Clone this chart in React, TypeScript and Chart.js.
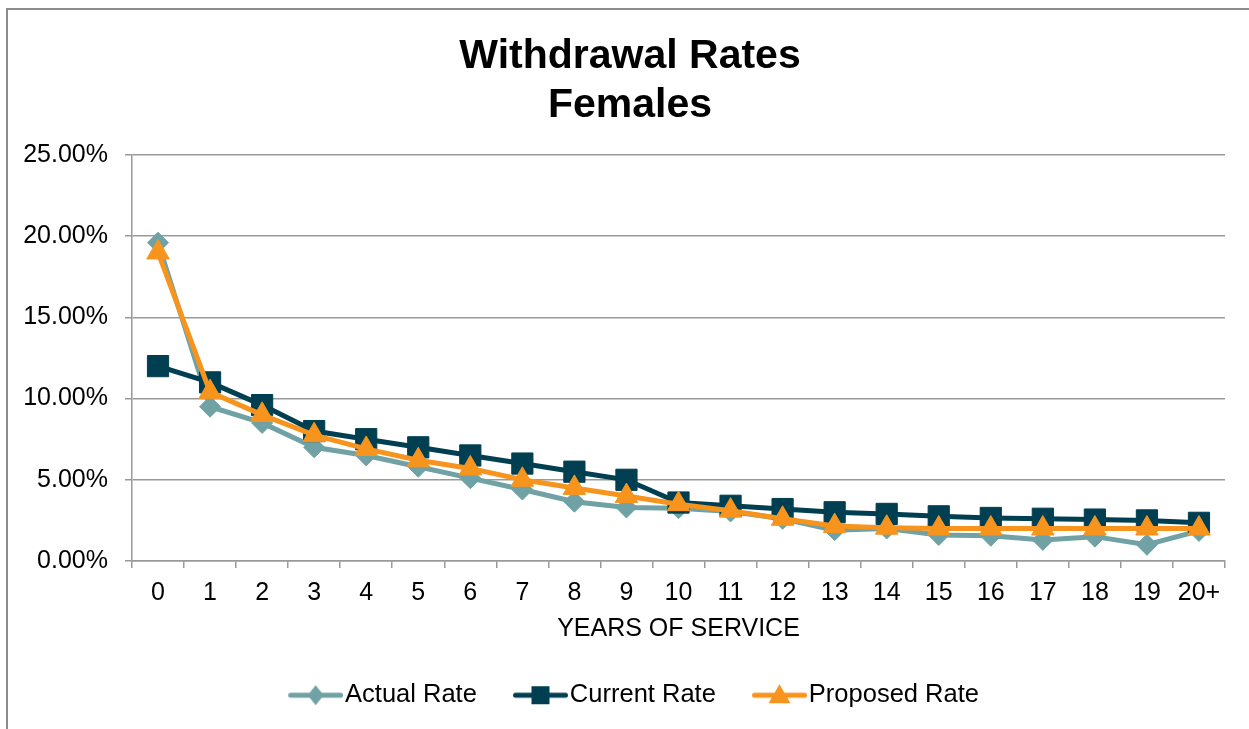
import React, { useEffect, useRef } from "react";
import { Chart, registerables } from "chart.js";

Chart.register(...registerables);

const categories = ["0", "1", "2", "3", "4", "5", "6", "7", "8", "9", "10", "11", "12", "13", "14", "15", "16", "17", "18", "19", "20+"];
const actualRate = [19.6, 9.5, 8.5, 7.0, 6.5, 5.8, 5.1, 4.4, 3.65, 3.3, 3.25, 3.05, 2.6, 1.9, 2.0, 1.6, 1.55, 1.3, 1.5, 1.0, 1.85];
const currentRate = [12.0, 11.0, 9.6, 8.0, 7.5, 7.0, 6.5, 6.0, 5.5, 5.0, 3.6, 3.4, 3.2, 3.0, 2.9, 2.75, 2.65, 2.6, 2.55, 2.5, 2.35];
const proposedRate = [19.0, 10.4, 9.0, 7.75, 6.9, 6.2, 5.7, 5.0, 4.5, 4.0, 3.5, 3.1, 2.6, 2.15, 2.05, 2.0, 2.0, 2.0, 2.0, 2.0, 2.0];
const seriesNames = ["Actual Rate", "Current Rate", "Proposed Rate"];
const titleLines = ["Withdrawal Rates", "Females"];
const xAxisTitle = "YEARS OF SERVICE";

const COLORS = ["#70A2A5", "#003F51", "#F7941E"];
const STYLES = ["rectRot", "rect", "triangle"];
const RADII = [10.5, 15, 13];
const FONT = "'Liberation Sans', Arial, sans-serif";
const GRID = "#999999";
const LEGEND_BOX = 51.25;
const BLOCK_SHIFT = 35;

function makeLegendImage(color: string, style: string): HTMLCanvasElement {
  const c = document.createElement("canvas");
  const w = Math.round(LEGEND_BOX + 21.5);
  c.width = w;
  c.height = 28;
  const ctx = c.getContext("2d")!;
  const cy = 14;
  const x1 = w;
  const x0 = x1 - 55;
  const cx = (x0 + x1) / 2;
  ctx.strokeStyle = color;
  ctx.fillStyle = color;
  ctx.lineWidth = 5;
  ctx.lineCap = "round";
  ctx.beginPath();
  ctx.moveTo(x0 + 2.5, cy);
  ctx.lineTo(x1 - 2.5, cy);
  ctx.stroke();
  ctx.beginPath();
  if (style === "rectRot") {
    ctx.moveTo(cx, cy - 10);
    ctx.lineTo(cx + 8, cy);
    ctx.lineTo(cx, cy + 10);
    ctx.lineTo(cx - 8, cy);
    ctx.closePath();
  } else if (style === "rect") {
    ctx.rect(cx - 9, cy - 9, 18, 18);
  } else {
    ctx.moveTo(cx, cy - 11);
    ctx.lineTo(cx + 11, cy + 8);
    ctx.lineTo(cx - 11, cy + 8);
    ctx.closePath();
  }
  ctx.fill();
  return c;
}

const shiftBlocks = {
  id: "shiftBlocks",
  afterLayout(chart: any) {
    if (chart.titleBlock) chart.titleBlock.left += BLOCK_SHIFT;
    if (chart.legend) chart.legend.left += BLOCK_SHIFT;
  },
};

export default function App() {
  const ref = useRef<HTMLCanvasElement | null>(null);

  useEffect(() => {
    if (!ref.current) return;
    const images = COLORS.map((c, i) => makeLegendImage(c, STYLES[i]));
    const seriesData = [actualRate, currentRate, proposedRate];
    const chart = new Chart(ref.current, {
      type: "line",
      data: {
        labels: categories,
        datasets: seriesNames.map((name, i) => ({
          label: name,
          data: seriesData[i],
          borderColor: COLORS[i],
          backgroundColor: COLORS[i],
          pointBackgroundColor: COLORS[i],
          pointBorderColor: COLORS[i],
          pointBorderWidth: 1,
          pointStyle: STYLES[i] as any,
          pointRadius: RADII[i],
          pointHoverRadius: RADII[i],
          borderWidth: 5,
          tension: 0,
          fill: false,
          order: 3 - i,
        })),
      },
      plugins: [shiftBlocks],
      options: {
        responsive: false,
        animation: false,
        events: [],
        layout: { padding: { left: 0, right: 24, top: 0, bottom: 11 } },
        plugins: {
          tooltip: { enabled: false },
          title: {
            display: true,
            text: titleLines,
            color: "#000",
            font: { family: FONT, size: 41, weight: "bold", lineHeight: 1.2 },
            padding: { top: 32, bottom: 24.6 },
          },
          legend: {
            display: true,
            position: "bottom",
            labels: {
              usePointStyle: true,
              pointStyleWidth: LEGEND_BOX,
              padding: 29,
              color: "#000",
              font: { family: FONT, size: 25.5 },
              sort: (a: any, b: any) => a.datasetIndex - b.datasetIndex,
              generateLabels: (ch: any) => {
                const items = (Chart.defaults.plugins.legend.labels as any).generateLabels(ch);
                return items.map((it: any) => ({ ...it, pointStyle: images[it.datasetIndex] }));
              },
            },
          },
        },
        scales: {
          x: {
            type: "category",
            offset: true,
            afterFit: (s: any) => {
              s.height = 92.5;
            },
            grid: {
              offset: true,
              drawOnChartArea: false,
              drawTicks: true,
              tickLength: 7,
              color: GRID,
              lineWidth: 1.5,
            },
            border: { display: true, color: GRID, width: 1.5 },
            ticks: {
              color: "#000",
              padding: 10,
              maxRotation: 0,
              autoSkip: false,
              font: { family: FONT, size: 25 },
            },
            title: {
              display: true,
              text: xAxisTitle,
              color: "#000",
              font: { family: FONT, size: 25, lineHeight: 1.2 },
              padding: { top: 0, bottom: 9.5 },
            },
          },
          y: {
            min: 0,
            max: 25,
            afterFit: (s: any) => {
              s.width = 132;
            },
            grid: {
              drawTicks: true,
              tickLength: 7,
              color: GRID,
              lineWidth: 1.5,
            },
            border: { display: true, color: GRID, width: 1.5 },
            ticks: {
              stepSize: 5,
              color: "#000",
              padding: 17,
              font: { family: FONT, size: 25 },
              callback: (v: any) => Number(v).toFixed(2) + "%",
            },
          },
        },
      },
    });
    return () => chart.destroy();
  }, []);

  return (
    <>
      <div
        style={{
          position: "absolute",
          left: 6,
          top: 8,
          width: 1249 - 6,
          height: 729 - 8,
          boxSizing: "border-box",
          borderTop: "2px solid #8c8c8c",
          borderLeft: "2px solid #8c8c8c",
          background: "#fff",
        }}
      />
      <div style={{ position: "absolute", left: 0, top: 0, width: 1249, height: 729 }}>
        <canvas ref={ref} width={1249} height={729} style={{ display: "block" }} />
      </div>
    </>
  );
}
